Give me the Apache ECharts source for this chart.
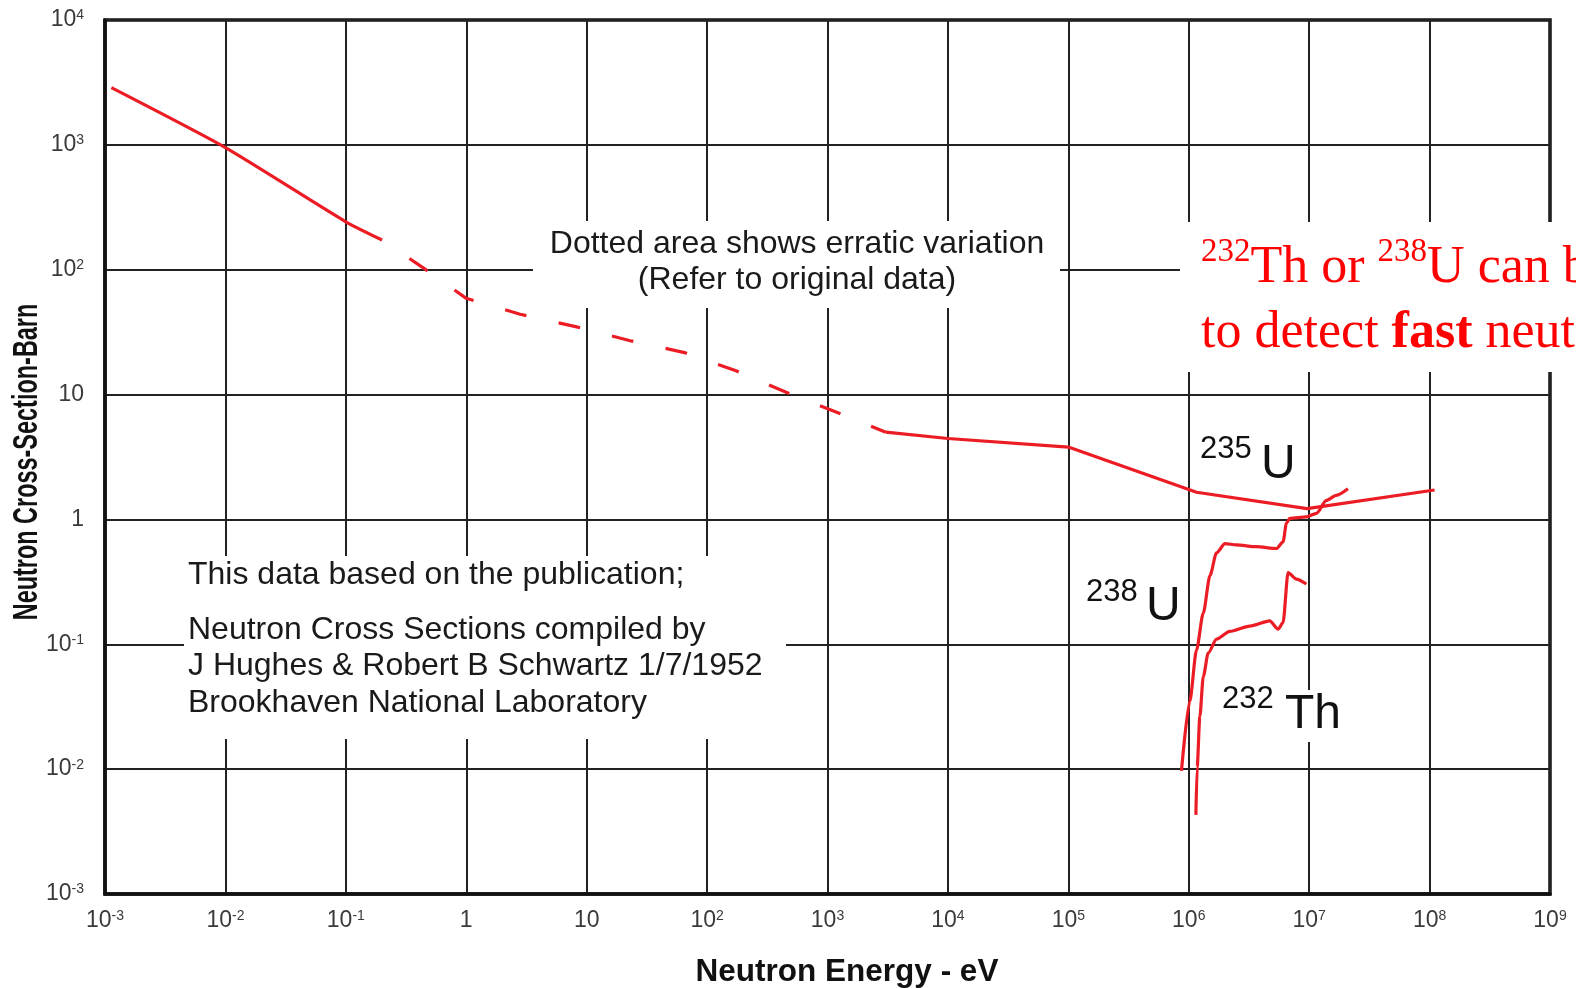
<!DOCTYPE html>
<html><head><meta charset="utf-8">
<script src="https://cdn.jsdelivr.net/npm/echarts@6/dist/echarts.min.js"></script>
<style>html,body{margin:0;padding:0;background:#fff}#c{width:1576px;height:988px}</style>
</head><body><div id="c"></div>
<script>
// Axis decades (exponents of 10) used for the tick labels
const xTickExponents = [-3, -2, -1, 0, 1, 2, 3, 4, 5, 6, 7, 8, 9];
const yTickExponents = [-3, -2, -1, 0, 1, 2, 3, 4];

// 235U – thermal region (solid)
const u235ThermalE = [0.00113, 0.01, 0.1, 0.2];
const u235ThermalS = [2870, 950, 242, 173];
// 235U – resonance region (dotted, erratic)
const u235DottedE = [0.2, 0.43, 1.0, 2.8, 8.1, 23, 65, 174, 480, 1290, 3050];
const u235DottedS = [173, 105, 59, 44, 35, 27, 21.7, 15.5, 10.2, 7.0, 5.0];
// 235U – fast region (solid)
const u235FastE = [3050, 1e4, 1e5, 1e6, 1.16e6, 9.6e6, 1.1e8];
const u235FastS = [5.0, 4.45, 3.8, 1.74, 1.65, 1.22, 1.72];
// 238U
const u238E = [8.7e5, 1.02e6, 1.16e6, 1.32e6, 1.5e6, 1.7e6, 2.0e6, 2.49e6, 3.65e6, 5.35e6, 6.07e6, 6.47e6, 6.9e6, 9.5e6, 1.15e7, 1.39e7, 1.68e7, 2.1e7];
const u238S = [0.0097, 0.035, 0.09, 0.178, 0.355, 0.54, 0.64, 0.625, 0.605, 0.585, 0.66, 0.93, 1.02, 1.05, 1.12, 1.42, 1.56, 1.76];
// 232Th
const th232E = [1.146e6, 1.175e6, 1.236e6, 1.32e6, 1.45e6, 1.7e6, 2.19e6, 3.21e6, 4.71e6, 5.52e6, 6.07e6, 6.68e6, 7.83e6, 9.48e6];
const th232S = [0.0043, 0.0104, 0.0263, 0.055, 0.085, 0.11, 0.127, 0.14, 0.154, 0.132, 0.149, 0.375, 0.333, 0.304];

const RED = '#ec1c24';
const zip = (xs, ys) => xs.map((x, i) => [x, ys[i]]);

function decadeLabel(v) {
  const e = Math.round(Math.log10(v));
  if (e === 0) return '1';
  if (e === 1) return '10';
  return '10{s|' + e + '}';
}
const tickRich = {
  s: { fontSize: 14, fontFamily: 'Liberation Sans', color: '#3a3a3a', verticalAlign: 'top', lineHeight: 15 }
};

const chart = echarts.init(document.getElementById('c'), null, { renderer: 'canvas' });

const lineStyleBase = { color: RED, width: 3.2 };

chart.setOption({
  animation: false,
  backgroundColor: '#ffffff',
  grid: { left: 105, right: 26, top: 20, bottom: 94, show: true, borderColor: '#111', borderWidth: 3.5, backgroundColor: 'transparent' },
  xAxis: {
    type: 'log', logBase: 10, min: Math.pow(10, xTickExponents[0]), max: Math.pow(10, xTickExponents[xTickExponents.length - 1]),
    interval: 1,
    axisLine: { show: true, lineStyle: { color: '#111', width: 3.5 } },
    axisTick: { show: false },
    splitLine: { show: true, lineStyle: { color: '#222', width: 2 } },
    minorSplitLine: { show: false },
    axisLabel: { formatter: decadeLabel, rich: tickRich, fontSize: 23, fontFamily: 'Liberation Sans', color: '#3a3a3a', margin: 15 }
  },
  yAxis: {
    type: 'log', logBase: 10, min: Math.pow(10, yTickExponents[0]), max: Math.pow(10, yTickExponents[yTickExponents.length - 1]),
    interval: 1,
    axisLine: { show: true, lineStyle: { color: '#111', width: 3.5 } },
    axisTick: { show: false },
    splitLine: { show: true, lineStyle: { color: '#222', width: 2 } },
    axisLabel: { formatter: decadeLabel, rich: tickRich, fontSize: 23, fontFamily: 'Liberation Sans', color: '#3a3a3a', margin: 21 }
  },
  series: [
    { name: '235U thermal', type: 'line', data: zip(u235ThermalE, u235ThermalS), showSymbol: false, smooth: 0.2, lineStyle: lineStyleBase, z: 5 },
    { name: '235U dotted', type: 'line', data: zip(u235DottedE, u235DottedS), showSymbol: false,
      lineStyle: { color: RED, width: 3.2, type: [22, 33], dashOffset: 22 }, z: 5 },
    { name: '235U fast', type: 'line', data: zip(u235FastE, u235FastS), showSymbol: false, lineStyle: lineStyleBase, z: 5 },
    { name: '238U', type: 'line', data: zip(u238E, u238S), showSymbol: false, smooth: 0.25, smoothMonotone: 'x', lineStyle: lineStyleBase, z: 5 },
    { name: '232Th', type: 'line', data: zip(th232E, th232S), showSymbol: false, smooth: 0.25, smoothMonotone: 'x', lineStyle: lineStyleBase, z: 5 }
  ],
  graphic: [
    // white backing boxes for annotations
    { type: 'rect', shape: { x: 533, y: 221, width: 527, height: 87 }, style: { fill: '#fff' }, z: 10 },
    { type: 'rect', shape: { x: 184, y: 556, width: 602, height: 183 }, style: { fill: '#fff' }, z: 10 },
    { type: 'rect', shape: { x: 1180, y: 222, width: 400, height: 150 }, style: { fill: '#fff' }, z: 10 },
    { type: 'rect', shape: { x: 1282, y: 690, width: 62, height: 52 }, style: { fill: '#fff' }, z: 10 },
    // dotted-area note
    { type: 'text', x: 797, y: 244, z: 11, style: { text: 'Dotted area shows erratic variation', font: '32px "Liberation Sans"', fill: '#1a1a1a', textAlign: 'center', textVerticalAlign: 'middle' } },
    { type: 'text', x: 797, y: 280, z: 11, style: { text: '(Refer to original data)', font: '32px "Liberation Sans"', fill: '#1a1a1a', textAlign: 'center', textVerticalAlign: 'middle' } },
    // source note
    { type: 'text', x: 188, y: 575, z: 11, style: { text: 'This data based on the publication;', font: '32px "Liberation Sans"', fill: '#1a1a1a', textAlign: 'left', textVerticalAlign: 'middle' } },
    { type: 'text', x: 188, y: 630, z: 11, style: { text: 'Neutron Cross Sections compiled by', font: '32px "Liberation Sans"', fill: '#1a1a1a', textAlign: 'left', textVerticalAlign: 'middle' } },
    { type: 'text', x: 188, y: 666, z: 11, style: { text: 'J Hughes & Robert B Schwartz 1/7/1952', font: '32px "Liberation Sans"', fill: '#1a1a1a', textAlign: 'left', textVerticalAlign: 'middle' } },
    { type: 'text', x: 188, y: 703, z: 11, style: { text: 'Brookhaven National Laboratory', font: '32px "Liberation Sans"', fill: '#1a1a1a', textAlign: 'left', textVerticalAlign: 'middle' } },
    // isotope labels
    { type: 'text', x: 1200, y: 465, z: 11, style: { text: '235', font: '31px "Liberation Sans"', fill: '#111', textAlign: 'left', textVerticalAlign: 'bottom' } },
    { type: 'text', x: 1261, y: 489, z: 11, style: { text: 'U', font: '48px "Liberation Sans"', fill: '#111', textAlign: 'left', textVerticalAlign: 'bottom' } },
    { type: 'text', x: 1086, y: 608, z: 11, style: { text: '238', font: '31px "Liberation Sans"', fill: '#111', textAlign: 'left', textVerticalAlign: 'bottom' } },
    { type: 'text', x: 1146, y: 631, z: 11, style: { text: 'U', font: '48px "Liberation Sans"', fill: '#111', textAlign: 'left', textVerticalAlign: 'bottom' } },
    { type: 'text', x: 1222, y: 715, z: 11, style: { text: '232', font: '31px "Liberation Sans"', fill: '#111', textAlign: 'left', textVerticalAlign: 'bottom' } },
    { type: 'text', x: 1285, y: 739, z: 11, style: { text: 'Th', font: '48px "Liberation Sans"', fill: '#111', textAlign: 'left', textVerticalAlign: 'bottom' } },
    // red note (clipped by the page edge, as in the original)
    { type: 'text', x: 1201, y: 236, z: 11, style: {
        text: '{s|232}{m|Th or }{s|238}{m|U can be used}\n{m|to detect }{b|fast}{m| neutrons}',
        fill: '#ff0000', textAlign: 'left', textVerticalAlign: 'top',
        rich: {
          m: { fontSize: 52, fontFamily: 'Liberation Serif', fill: '#ff0000', lineHeight: 65 },
          b: { fontSize: 52, fontFamily: 'Liberation Serif', fontWeight: 'bold', fill: '#ff0000', lineHeight: 65 },
          s: { fontSize: 33, fontFamily: 'Liberation Serif', fill: '#ff0000', verticalAlign: 'top', lineHeight: 40 }
        } } },
    // axis titles
    { type: 'text', x: 847, y: 972, z: 11, style: { text: 'Neutron Energy - eV', font: 'bold 31.5px "Liberation Sans"', fill: '#111', textAlign: 'center', textVerticalAlign: 'middle' } },
    { type: 'text', x: 27, y: 462, rotation: Math.PI / 2, scaleX: 0.67, z: 11, style: { text: 'Neutron Cross-Section-Barn', font: 'bold 35px "Liberation Sans"', fill: '#111', textAlign: 'center', textVerticalAlign: 'middle' } }
  ]
});
</script>
</body></html>
